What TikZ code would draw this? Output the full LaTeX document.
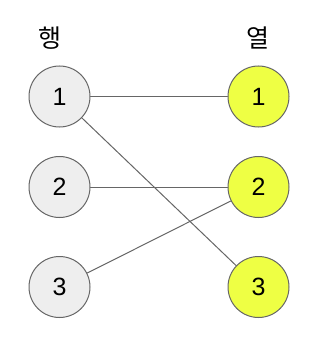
\documentclass[tikz,border=0pt]{standalone}
\usepackage{fontspec}
\setmainfont{Liberation Sans}
\newfontfamily\krfont{Noto Sans CJK KR}
\usetikzlibrary{positioning}
\definecolor{rowfill}{HTML}{EEEEEE}
\definecolor{colfill}{HTML}{EEFF44}
\definecolor{edgegray}{HTML}{666666}

\begin{document}
\begin{tikzpicture}[x=1pt, y=-1pt, line cap=round,
    every node/.style={font=\fontsize{25}{28}\selectfont},
    vtx/.style={circle, draw=edgegray, line width=1pt, minimum size=61pt, inner sep=0pt},
    rowv/.style={vtx, fill=rowfill},
    colv/.style={vtx, fill=colfill},
    link/.style={draw=edgegray, line width=1pt}]
  \useasboundingbox (0,0) rectangle (318,339);
  \node (rowhead) at (50,38)  {\krfont 행};
  \node (colhead) at (258,38) {\krfont 열};
  \node[rowv] (r1) at (59.5,96.5)  {1};
  \node[rowv] (r2) at (59.5,187)   {2};
  \node[rowv] (r3) at (59.5,287)   {3};
  \node[colv] (c1) at (258.5,96.5) {1};
  \node[colv] (c2) at (258.5,187)  {2};
  \node[colv] (c3) at (258.5,287)  {3};
  \draw[link] (r1)--(c1); \draw[link] (r1)--(c3);
  \draw[link] (r2)--(c2); \draw[link] (r3)--(c2);
\end{tikzpicture}
\end{document}
